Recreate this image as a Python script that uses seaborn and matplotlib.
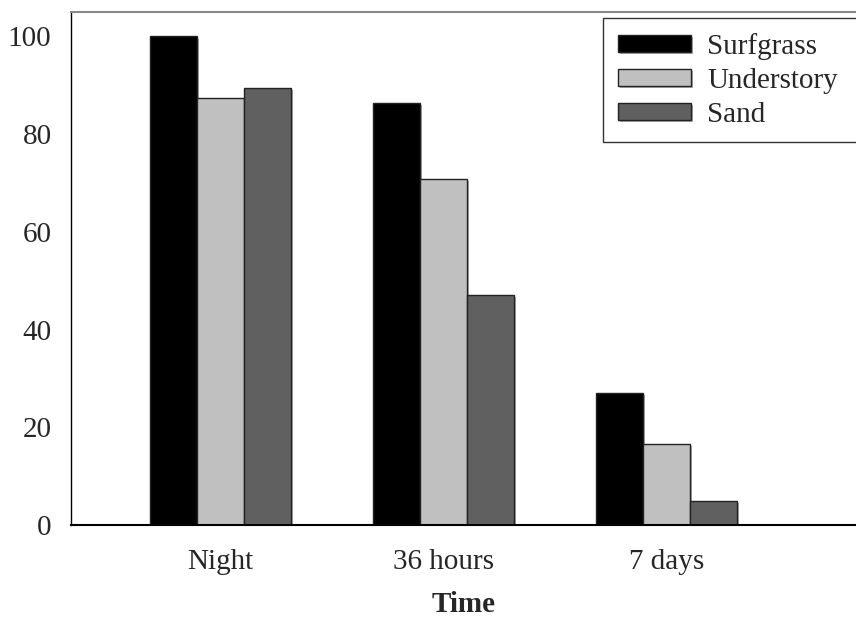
import seaborn as sns
import matplotlib.pyplot as plt
import matplotlib.patheffects as pe
import pandas as pd

# data
times = ["Night", "36 hours", "7 days"]
habitats = ["Surfgrass", "Understory", "Sand"]
surfgrass = [100.0, 86.3, 27.0]
understory = [87.3, 70.8, 16.6]
sand = [89.4, 47.0, 4.9]
colors = ["#000000", "#c0c0c0", "#606060"]

df = pd.DataFrame({
    "time": times * 3,
    "habitat": [h for h in habitats for _ in times],
    "value": surfgrass + understory + sand,
})

sns.set_theme(style="white")
plt.rcParams["font.family"] = ["Liberation Serif", "DejaVu Serif"]

fig = plt.figure(figsize=(8.56, 6.2), dpi=100)
ax = fig.add_axes([71 / 856, 95 / 620, 1 - 71 / 856, 513 / 620])

sns.barplot(data=df, x="time", y="value", hue="habitat", order=times,
            hue_order=habitats, palette=colors, width=0.63, ax=ax,
            edgecolor="#222222", linewidth=1, saturation=1, legend=True)

# slight gray shadow like the original
for bar in ax.patches:
    bar.set_path_effects([pe.SimplePatchShadow(offset=(1.5, -1.5), shadow_rgbFace="#999999", alpha=0.8), pe.Normal()])

ax.set_xlim(-0.67, 2.85)
ax.set_ylim(0, 105)
ax.set_yticks([0, 20, 40, 60, 80, 100])
ax.tick_params(axis="y", direction="in", length=8, width=1, color="#555555", pad=14, labelsize=21)
ax.tick_params(axis="x", length=0, pad=17, labelsize=21)
ax.set_ylabel("")
ax.set_xlabel("Time", fontsize=21, fontweight="bold", labelpad=12)

ax.spines["right"].set_visible(False)
ax.spines["top"].set_color("#888888")
ax.spines["top"].set_linewidth(1.5)
ax.spines["left"].set_color("black")
ax.spines["left"].set_linewidth(1)
ax.spines["bottom"].set_color("black")
ax.spines["bottom"].set_linewidth(1.5)

# legend box runs off the right edge in the original
leg = ax.legend(loc="upper left", bbox_to_anchor=(603 / 856, 1 - 144 / 620, 270 / 856, 126 / 620),
                bbox_transform=fig.transFigure, mode="expand", fontsize=21, frameon=True,
                fancybox=False, edgecolor="black", borderaxespad=0,
                handlelength=2.5, handleheight=0.5, handletextpad=0.58,
                labelspacing=0.28, borderpad=0.5)
leg.get_frame().set_linewidth(1)

fig.savefig("out.png", dpi=100)
